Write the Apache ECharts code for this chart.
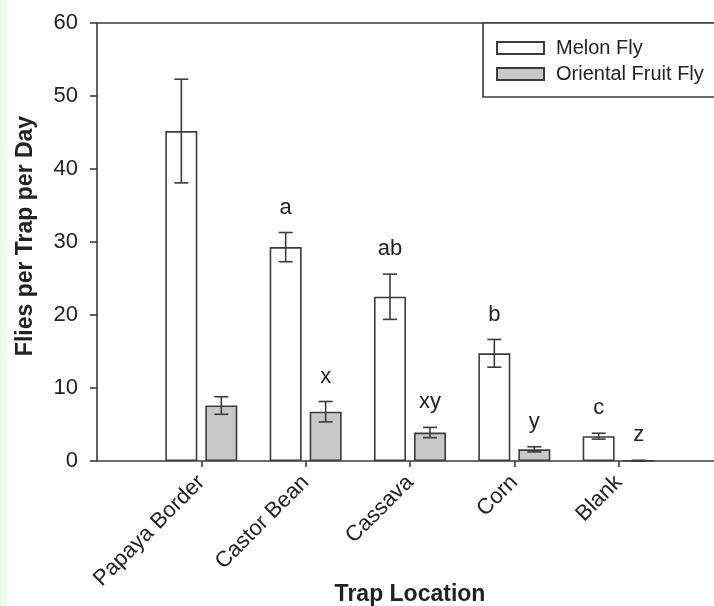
<!DOCTYPE html>
<html>
<head>
<meta charset="utf-8">
<script src="https://cdn.jsdelivr.net/npm/echarts@6/dist/echarts.min.js"></script>
<style>html,body{margin:0;padding:0;background:#fff;}#c{width:714px;height:606px;}</style>
</head>
<body>
<div id="c"></div>
<script>
var categories = ["", "Papaya Border", "Castor Bean", "Cassava", "Corn", "Blank", ""];
var melonMean = [null, 45.2, 29.3, 22.5, 14.75, 3.4, null];
var melonErr = [null, 7.1, 2.0, 3.1, 1.9, 0.4, null];
var orientalMean = [null, 7.6, 6.75, 3.9, 1.6, 0.05, null];
var orientalErr = [null, 1.2, 1.4, 0.7, 0.35, 0.05, null];
var melonLetters = ["", "", "a", "ab", "b", "c", ""];
var orientalLetters = ["", "", "x", "xy", "y", "z", ""];
var yTicks = [0, 10, 20, 30, 40, 50, 60];

var LINE = '#3c3c3c';
var TEXT = '#222';
var FONT = 'Liberation Sans, Arial, sans-serif';

function errSeries(means, errs, letters, offset) {
  var data = means.map(function (m, i) { return m == null ? null : [i, m, errs[i], letters[i]]; }).filter(Boolean);
  return {
    type: 'custom',
    silent: true,
    z: 5,
    data: data,
    renderItem: function (params, api) {
      var idx = api.value(0), m = api.value(1), e = api.value(2);
      var letter = data[params.dataIndex][3];
      var top = api.coord([idx, m + e]);
      var bot = api.coord([idx, Math.max(m - e, 0)]);
      var x = top[0] + offset;
      var hw = 7;
      var children = [
        { type: 'line', shape: { x1: x, y1: top[1], x2: x, y2: bot[1] }, style: { stroke: LINE, lineWidth: 1.6 } },
        { type: 'line', shape: { x1: x - hw, y1: top[1], x2: x + hw, y2: top[1] }, style: { stroke: LINE, lineWidth: 1.6 } },
        { type: 'line', shape: { x1: x - hw, y1: bot[1], x2: x + hw, y2: bot[1] }, style: { stroke: LINE, lineWidth: 1.6 } }
      ];
      if (letter) {
        children.push({ type: 'text', style: { text: letter, x: x, y: top[1] - 14, align: 'center', verticalAlign: 'bottom', fill: TEXT, font: '22px ' + FONT } });
      }
      return { type: 'group', children: children };
    }
  };
}

var chart = echarts.init(document.getElementById('c'));
chart.setOption({
  animation: false,
  backgroundColor: '#fff',
  textStyle: { fontFamily: FONT },
  graphic: [
    { type: 'rect', left: 0, top: 0, shape: { width: 7, height: 606 }, style: { fill: '#effbf1' }, z: -1 },
    { type: 'rect', shape: { x: 483, y: 23, width: 260, height: 74 }, style: { fill: '#fff', stroke: LINE, lineWidth: 1.6 }, z: 10 }
  ],
  legend: {
    orient: 'vertical',
    left: 496,
    top: 38,
    padding: 0,
    itemWidth: 47,
    itemHeight: 12,
    itemGap: 6,
    z: 20,
    textStyle: { fontSize: 20, color: TEXT, lineHeight: 20, fontFamily: FONT, padding: [0, 0, 0, 7] },
    data: [{ name: 'Melon Fly', icon: 'rect' }, { name: 'Oriental Fruit Fly', icon: 'rect' }]
  },
  grid: { left: 97, right: -9, top: 23, bottom: 145, containLabel: false, outerBoundsMode: 'none' },
  xAxis: [{
    type: 'category',
    data: categories,
    boundaryGap: false,
    axisLine: { lineStyle: { color: LINE, width: 1.6 } },
    axisTick: { length: 6, lineStyle: { color: LINE, width: 1.6 }, interval: function (i) { return i >= 1 && i <= 5; } },
    axisLabel: { rotate: 45, fontSize: 22, color: TEXT, margin: 18, interval: 0, fontFamily: FONT },
    name: 'Trap Location',
    nameLocation: 'middle',
    nameGap: 122,
    nameMoveOverlap: false,
    nameTextStyle: { fontSize: 23, fontWeight: 'bold', color: TEXT, fontFamily: FONT }
  }, {
    type: 'category',
    data: categories,
    boundaryGap: false,
    position: 'top',
    axisLine: { lineStyle: { color: LINE, width: 1.6 } },
    axisTick: { show: false },
    axisLabel: { show: false }
  }],
  yAxis: {
    type: 'value',
    min: yTicks[0],
    max: yTicks[yTicks.length - 1],
    interval: 10,
    axisLine: { show: true, lineStyle: { color: LINE, width: 1.6 } },
    axisTick: { show: true, length: 7, lineStyle: { color: LINE, width: 1.6 } },
    axisLabel: { fontSize: 22, color: TEXT, margin: 19, fontFamily: FONT },
    splitLine: { show: false },
    name: 'Flies per Trap per Day',
    nameLocation: 'middle',
    nameGap: 60,
    nameMoveOverlap: false,
    nameTextStyle: { fontSize: 23, fontWeight: 'bold', color: TEXT, fontFamily: FONT, padding: [0, 0, 0, 12] }
  },
  series: [
    {
      name: 'Melon Fly', type: 'bar', data: melonMean, barWidth: 32, barGap: '25%',
      itemStyle: { color: '#ffffff', borderColor: LINE, borderWidth: 1.6 }
    },
    {
      name: 'Oriental Fruit Fly', type: 'bar', data: orientalMean, barWidth: 32, barGap: '25%',
      itemStyle: { color: '#c8c8c8', borderColor: LINE, borderWidth: 1.6 }
    },
    errSeries(melonMean, melonErr, melonLetters, -20),
    errSeries(orientalMean, orientalErr, orientalLetters, 20)
  ]
});
</script>
</body>
</html>
